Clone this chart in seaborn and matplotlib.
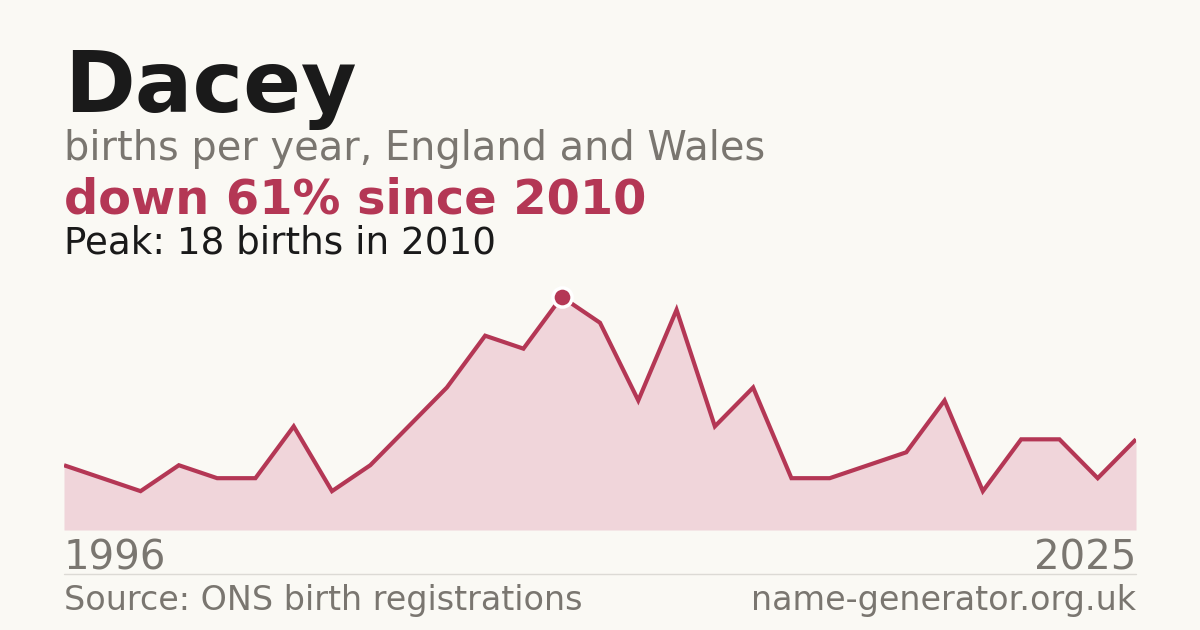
import numpy as np
import seaborn as sns
import pandas as pd
import matplotlib.pyplot as plt

# births per year for "Dacey" (one year has no published count)
years = [1996, 1998, 1999, 2000, 2001, 2002, 2003, 2004, 2005, 2006, 2007, 2008, 2009,
         2010, 2011, 2012, 2013, 2014, 2015, 2016, 2017, 2018, 2019, 2020, 2021, 2022,
         2023, 2024, 2025]
births = [5, 4, 3, 5, 4, 4, 8, 3, 5, 8, 11, 15, 14,
          18, 16, 10, 17, 8, 11, 4, 4, 5, 6, 10, 3, 7,
          7, 4, 7]

BG = '#faf9f4'
RED = '#b43755'
FILL = '#f0d5da'
GREY = '#7a7670'
INK = '#1a1a1a'

df = pd.DataFrame({'year': years, 'births': births})
df['pos'] = range(len(df))

sns.set_theme(style="white")
plt.rcParams['font.family'] = ['DejaVu Sans']

W, H = 1200, 630
fig = plt.figure(figsize=(12, 6.3), dpi=100, facecolor=BG)
# chart area in pixels: x 64..1136, y 280..530
ax = fig.add_axes([64 / W, 1 - 530 / H, 1072 / W, 250 / H])
ax.set_facecolor(BG)

ax.fill_between(df['pos'], 0, df['births'], color=FILL, lw=0)
sns.lineplot(data=df, x='pos', y='births', ax=ax, color=RED, lw=3,
             solid_joinstyle='miter', solid_capstyle='butt')

peak = df.loc[df['births'].idxmax()]
ax.scatter([peak['pos']], [peak['births']], s=190, color=RED,
           edgecolor='white', linewidth=2.5, zorder=5, clip_on=False)

ax.set_xlim(0, len(df) - 1)
ax.set_ylim(0, 19.3)
ax.axis('off')

def ftext(x, y, s, **kw):
    fig.text(x / W, 1 - y / H, s, va='baseline', **kw)

drop = round((1 - births[-1] / peak['births']) * 100)
ftext(64, 112, 'Dacey', fontsize=61.5, fontweight='bold', color=INK)
ftext(64, 160, 'births per year, England and Wales', fontsize=28.7, color=GREY)
ftext(64, 214, f'down {drop}% since {int(peak["year"])}', fontsize=34.5,
      fontweight='bold', color=RED)
ftext(64, 253, f'Peak: {int(peak["births"])} births in {int(peak["year"])}',
      fontsize=26.8, color=INK)
ftext(64, 570, str(years[0]), fontsize=29, color=GREY)
ftext(1136, 570, str(years[-1]), fontsize=29, color=GREY, ha='right')
ftext(64, 610, 'Source: ONS birth registrations', fontsize=24, color=GREY)
ftext(1136, 610, 'name-generator.org.uk', fontsize=24, color=GREY, ha='right')

fig.add_artist(plt.Line2D([64 / W, 1136 / W], [1 - 574 / H, 1 - 574 / H],
                          color='#dcdad5', lw=1))

fig.savefig('out.png', dpi=100, facecolor=BG)
